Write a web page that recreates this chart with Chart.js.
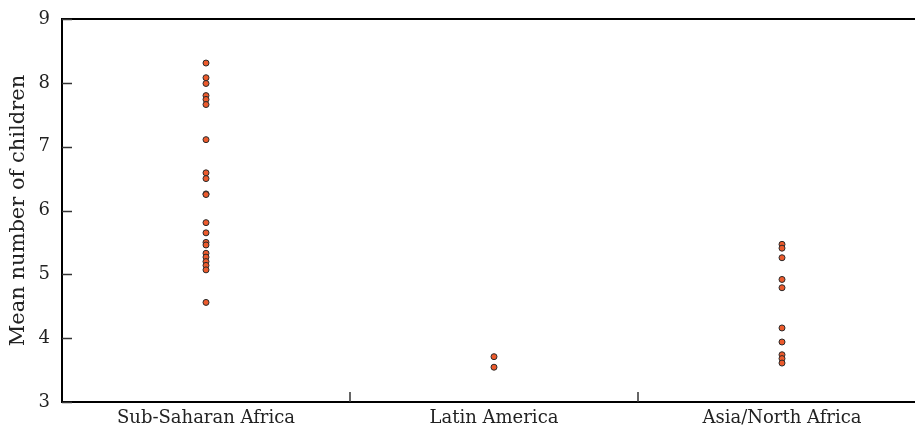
<!DOCTYPE html>
<html>
<head>
<meta charset="utf-8">
<script src="https://cdn.jsdelivr.net/npm/chart.js@4"></script>
<style>
  body { margin: 0; overflow: hidden; background: #fff; }
</style>
</head>
<body>
<canvas id="myChart" width="930" height="436"></canvas>
<script>
// Categories and values
let categories = ["Sub-Saharan Africa", "Latin America", "Asia/North Africa"];
let subSaharan = [8.31, 8.08, 7.99, 7.80, 7.74, 7.66, 7.11, 6.59, 6.50, 6.26, 6.25,
                  5.81, 5.65, 5.50, 5.46, 5.33, 5.27, 5.20, 5.14, 5.07, 4.56];
let latinAmerica = [3.71, 3.545];
let asiaNorthAfrica = [5.47, 5.41, 5.26, 4.92, 4.79, 4.16, 3.94, 3.74, 3.68, 3.61];
let yTicks = [3, 4, 5, 6, 7, 8, 9];

let groups = [subSaharan, latinAmerica, asiaNorthAfrica];
let points = [];
groups.forEach((vals, i) => {
    vals.forEach(v => points.push({ x: categories[i], y: v }));
});

// inner ticks + top frame line
let frame = {
    id: 'frame',
    afterDraw(chart) {
        let c = chart.ctx, a = chart.chartArea;
        let x = chart.scales.x, y = chart.scales.y;
        c.save();
        c.strokeStyle = '#000';
        c.lineWidth = 2;
        c.beginPath();
        c.moveTo(a.left, a.top);
        c.lineTo(a.right, a.top);
        c.stroke();
        c.lineWidth = 1.5;
        c.strokeStyle = '#333';
        yTicks.forEach(t => {
            let py = Math.round(y.getPixelForValue(t)) + 0.5;
            c.beginPath();
            c.moveTo(a.left, py);
            c.lineTo(a.left + 10, py);
            c.stroke();
        });
        for (let i = 0; i < categories.length - 1; i++) {
            let px = Math.round((x.getPixelForValue(i) + x.getPixelForValue(i + 1)) / 2);
            c.beginPath();
            c.moveTo(px, a.bottom);
            c.lineTo(px, a.bottom - 10);
            c.stroke();
        }
        c.restore();
    }
};

let font = { family: 'DejaVu Serif', size: 18 };

ctx = document.getElementById('myChart').getContext('2d');
myChart = new Chart(ctx, {
    type: 'scatter',
    data: {
        datasets: [{
            data: points,
            pointRadius: 3,
            pointHoverRadius: 3,
            backgroundColor: '#ec5a2c',
            borderColor: '#2a2a2a',
            borderWidth: 1
        }]
    },
    options: {
        responsive: false,
        animation: false,
        devicePixelRatio: 1,
        layout: { padding: { top: 19, right: 0, left: 0, bottom: 0 } },
        plugins: { legend: { display: false }, tooltip: { enabled: false } },
        scales: {
            x: {
                type: 'category',
                labels: categories,
                offset: true,
                grid: { display: false, drawTicks: false, tickLength: 0 },
                border: { display: true, color: '#000', width: 2 },
                ticks: { color: '#222', font: font, padding: 6 },
                afterFit(s) { s.height = 34; s.paddingLeft = 0; s.paddingRight = 0; }
            },
            y: {
                min: 3,
                max: 9,
                afterBuildTicks(s) { s.ticks = yTicks.map(v => ({ value: v })); },
                grid: { display: false, drawTicks: false, tickLength: 0 },
                border: { display: true, color: '#000', width: 2 },
                ticks: { color: '#222', font: font, padding: 12 },
                title: { display: true, text: 'Mean number of children', color: '#222',
                         font: { family: 'DejaVu Serif', size: 21 }, padding: { top: 6, bottom: 0 } },
                afterFit(s) { s.width = 62; s.paddingTop = 0; s.paddingBottom = 0; }
            }
        }
    },
    plugins: [frame]
});
</script>
</body>
</html>
